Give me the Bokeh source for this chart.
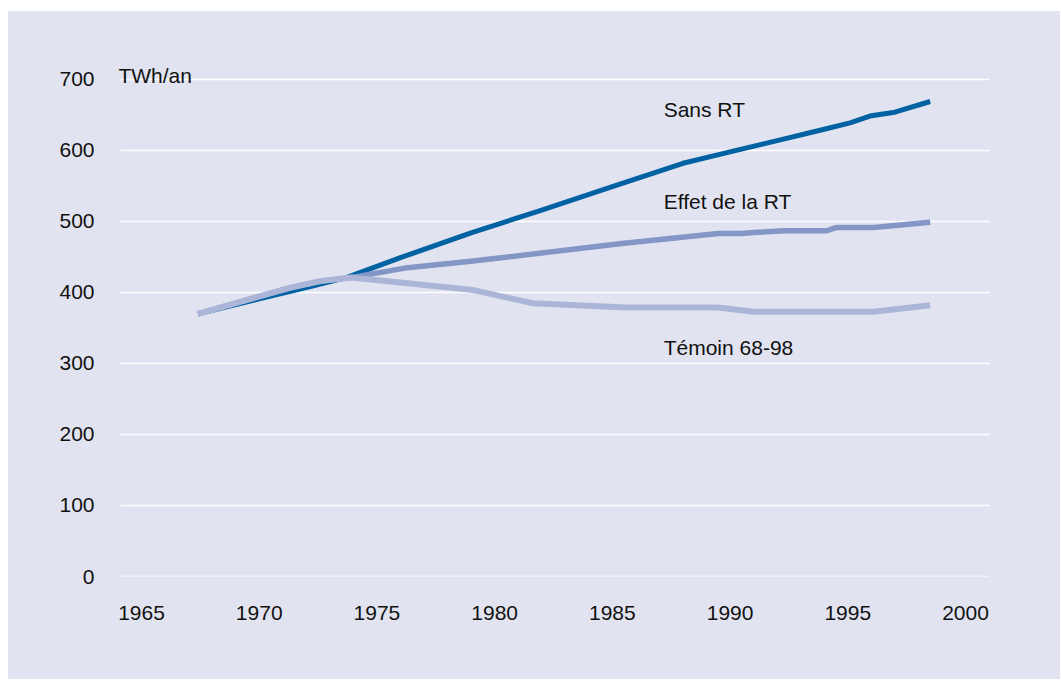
from bokeh.plotting import figure
from bokeh.models import Range1d, FixedTicker, Label
from bokeh.embed import file_html
from bokeh.resources import INLINE

# ---- data ----
sans_rt_years = [1967.4, 1970.0, 1972.0, 1973.7, 1976.0, 1979.0, 1982.0, 1985.0,
                 1988.0, 1990.0, 1992.0, 1994.0, 1995.1, 1996.0, 1997.0, 1998.5]
sans_rt_vals = [370, 391, 407, 421, 449, 484, 516, 549,
                582, 598, 614, 630, 639, 649, 654, 669]

effet_years = [1967.4, 1971.3, 1972.6, 1973.9, 1976.3, 1979.0, 1985.4, 1989.5,
               1990.5, 1991.0, 1992.3, 1994.1, 1994.5, 1996.1, 1998.5]
effet_vals = [370, 406.6, 416, 421, 435, 444, 469, 483,
              483, 484.5, 487, 487, 491.5, 491.5, 499]

temoin_years = [1967.4, 1971.3, 1972.6, 1973.9, 1979.0, 1981.6, 1985.6, 1989.5,
                1991.0, 1996.1, 1998.5]
temoin_vals = [370, 406.6, 416, 421, 404, 385, 379, 379, 373, 373, 382]

x_ticks = [1965, 1970, 1975, 1980, 1985, 1990, 1995, 2000]
y_ticks = [0, 100, 200, 300, 400, 500, 600, 700]

unit_label = "TWh/an"
series_names = ["Sans RT", "Effet de la RT", "Témoin 68-98"]
series_label_pos = [(1987.18, 657.7), (1987.18, 528.2), (1987.18, 322.5)]

BG = "#e1e4f0"
FONT = "Liberation Sans"
TXT = "#111111"
FS = "21px"

GRID_X0, GRID_X1 = 1964.108, 2001.02

p = figure(width=1052, height=668, output_backend="svg", toolbar_location=None,
           x_range=Range1d(1963.598, 2001.02), y_range=Range1d(0, 726.76),
           min_border_left=100, min_border_right=71, min_border_top=49,
           min_border_bottom=103)
p.margin = (11, 0, 0, 8)
p.styles = {"background-color": BG}
p.background_fill_color = None
p.border_fill_color = None
p.outline_line_color = None

p.xgrid.grid_line_color = None
p.ygrid.grid_line_color = None

for ax in (p.xaxis[0], p.yaxis[0]):
    ax.axis_line_color = None
    ax.major_tick_line_color = None
    ax.minor_tick_line_color = None
    ax.major_label_text_font = FONT
    ax.major_label_text_font_size = FS
    ax.major_label_text_color = TXT

p.xaxis[0].ticker = FixedTicker(ticks=x_ticks)
p.yaxis[0].ticker = FixedTicker(ticks=y_ticks)
p.xaxis[0].major_label_standoff = 23
p.yaxis[0].major_label_standoff = 8

# horizontal white grid lines at the y ticks
p.segment(x0=[GRID_X0] * len(y_ticks), y0=y_ticks,
          x1=[GRID_X1] * len(y_ticks), y1=y_ticks,
          line_color="white", line_width=1.6)

p.line(sans_rt_years, sans_rt_vals, line_color="#0062a3", line_width=5,
       line_join="round")
p.line(effet_years, effet_vals, line_color="#8396c6", line_width=5.5,
       line_join="round")
p.line(temoin_years, temoin_vals, line_color="#abb5d8", line_width=6,
       line_join="round")

p.add_layout(Label(x=1964.02, y=705.6, text=unit_label, text_font=FONT,
                   text_font_size=FS, text_color=TXT, text_baseline="middle"))
for name, (lx, ly) in zip(series_names, series_label_pos):
    p.add_layout(Label(x=lx, y=ly, text=name, text_font=FONT,
                       text_font_size=FS, text_color=TXT,
                       text_baseline="middle"))

open("out.html", "w").write(file_html(p, INLINE))
